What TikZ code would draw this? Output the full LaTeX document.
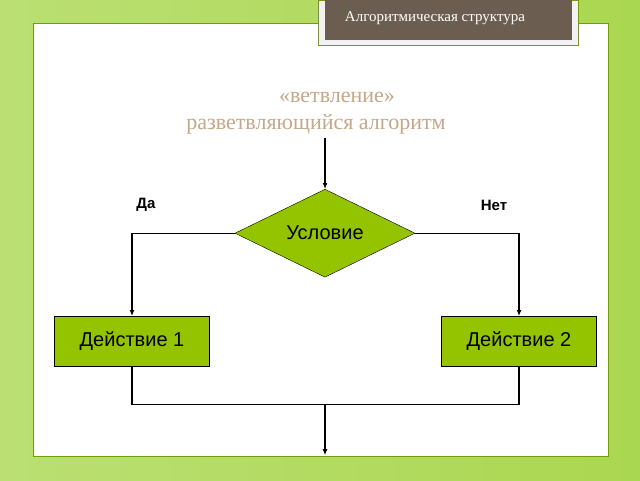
\documentclass[tikz,border=0pt]{standalone}
\usepackage{fontspec}
\setmainfont{Liberation Serif}
\setsansfont{Liberation Sans}
\usetikzlibrary{shapes.geometric,arrows.meta}
\definecolor{leaf}{RGB}{148,196,0}
\definecolor{bark}{RGB}{107,94,80}
\definecolor{sand}{RGB}{196,168,137}
\definecolor{grass}{RGB}{170,215,80}
\tikzset{
	actbox/.style={draw, fill=leaf, minimum width=155pt, minimum height=50pt, font=\sffamily\fontsize{20}{22}\selectfont},
	condbox/.style={diamond, draw, fill=leaf, aspect=2.05, minimum width=180pt, minimum height=88pt, inner sep=0pt, font=\sffamily\fontsize{20}{22}\selectfont},
	flow/.style={line width=1.2pt},
	flowarr/.style={flow, -{Latex[length=6pt,width=5pt]}},
	lbl/.style={font=\sffamily\bfseries\fontsize{15}{17}\selectfont}
}
\begin{document}
\begin{tikzpicture}[x=1pt,y=-1pt]
	% background and panel
	\shade[left color=grass!80!white, right color=grass] (0,0) rectangle (640,480);
	\draw[fill=white, draw=leaf!80!black] (33,23) rectangle (608,456);
	\draw[fill=white!95!black, draw=leaf!80!black] (318,0) rectangle (578,45);
	\fill[bark] (325,0) rectangle (572,40);
	\node[text=white, font=\fontsize{15}{17}\selectfont] (title) at (435,18) {Алгоритмическая структура};

	\node[text=sand, font=\fontsize{22}{24}\selectfont] (head1) at (337,97) {«ветвление»};
	\node[text=sand, font=\fontsize{22}{24}\selectfont] (head2) at (316,124) {разветвляющийся алгоритм};

	% flowchart
	\coordinate (start) at (325,138);
	\node[condbox] (cond) at (325,233) {Условие};
	\node[actbox] (act1) at (132,341) {Действие 1};
	\node[actbox] (act2) at (519,341) {Действие 2};
	\node[lbl] (yes) at (146,205) {Да};
	\node[lbl] (no) at (494,205) {Нет};
	\coordinate (joinL) at (132,404);
	\coordinate (joinR) at (519,404);
	\coordinate (joinM) at (325,404);
	\coordinate (finish) at (325,455);

	\draw[flowarr] (start) -- (cond.north);
	\draw[flowarr] (cond.west) -| (act1.north);
	\draw[flowarr] (cond.east) -| (act2.north);
	\draw[flow] (act1.south) -- (joinL) -- (joinR) -- (act2.south);
	\draw[flowarr] (joinM) -- (finish);
\end{tikzpicture}
\end{document}
